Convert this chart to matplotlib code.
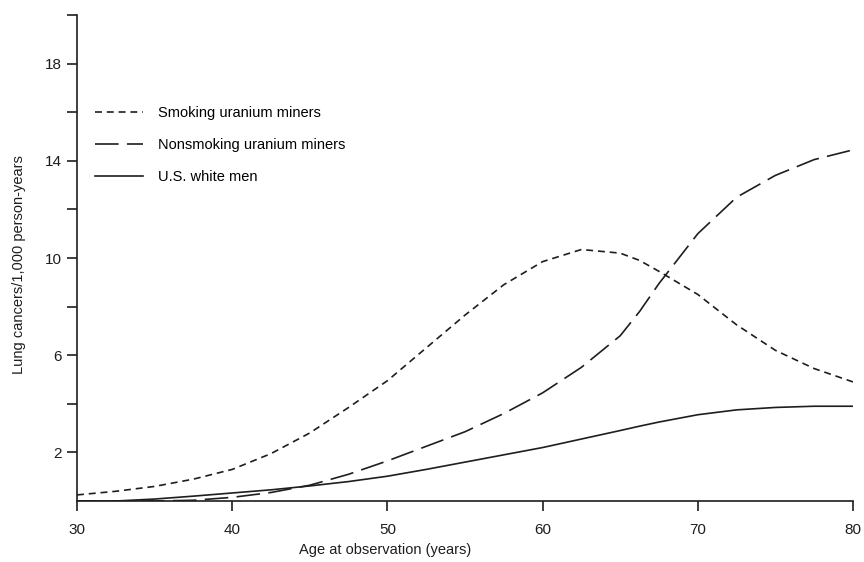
import matplotlib
matplotlib.use("Agg")
import matplotlib.pyplot as plt
from matplotlib.ticker import FixedLocator

plt.rcParams['font.family'] = ['Liberation Sans', 'DejaVu Sans']
plt.rcParams['lines.scale_dashes'] = False

# ── Data ──────────────────────────────────────────────────────────────────────
ages = [30, 32.5, 35, 37.5, 40, 42.5, 45, 47.5, 50, 52.5, 55,
        57.5, 60, 62.5, 65, 66.25, 67.5, 70, 72.5, 75, 77.5, 80]
smoking = [0.25, 0.4, 0.6, 0.9, 1.3, 1.95, 2.8, 3.85, 4.95, 6.3, 7.65,
           8.9, 9.85, 10.35, 10.2, 9.9, 9.45, 8.5, 7.25, 6.2, 5.45, 4.9]
nonsmoking = [0.0, 0.0, 0.0, 0.03, 0.15, 0.35, 0.65, 1.1, 1.65, 2.25, 2.85,
              3.6, 4.45, 5.5, 6.8, 7.8, 8.95, 11.0, 12.5, 13.4, 14.05, 14.45]
us_white = [0.0, 0.0, 0.08, 0.2, 0.33, 0.46, 0.62, 0.8, 1.02, 1.3, 1.6,
            1.9, 2.2, 2.55, 2.9, 3.08, 3.25, 3.55, 3.75, 3.85, 3.9, 3.9]

labels = ['Smoking uranium miners', 'Nonsmoking uranium miners',
          'U.S. white men']
x_ticks = [30, 40, 50, 60, 70, 80]
y_major = [2, 6, 10, 14, 18]
y_minor = [4, 8, 12, 16, 20]

ink = '#1e1e1e'

# ── Figure ────────────────────────────────────────────────────────────────────
fig = plt.figure(figsize=(8.64, 5.62), dpi=100)
ax = fig.add_axes([77/864, 61/562, 776/864, 486/562])

ax.plot(ages, smoking, color=ink, lw=1.2, dashes=(5, 3.5), label=labels[0])
ax.plot(ages, nonsmoking, color=ink, lw=1.2, dashes=(17, 6), label=labels[1])
ax.plot(ages, us_white, color=ink, lw=1.2, label=labels[2])

ax.set_xlim(30, 80)
ax.set_ylim(0, 20)
ax.set_xticks(x_ticks)
ax.yaxis.set_major_locator(FixedLocator(y_major))
ax.yaxis.set_minor_locator(FixedLocator(y_minor))

for side in ['top', 'right']:
    ax.spines[side].set_visible(False)
for side in ['left', 'bottom']:
    ax.spines[side].set_linewidth(1.2)
    ax.spines[side].set_color(ink)

ax.tick_params(axis='x', direction='out', length=7, width=1.2, pad=9,
               labelsize=11, colors=ink)
ax.tick_params(axis='y', which='both', direction='out', length=7, width=1.2,
               pad=4, labelsize=11, colors=ink)

ax.set_xlabel('Age at observation (years)', fontsize=10.5, color=ink)
ax.xaxis.set_label_coords(0.397, -0.086)
ax.set_ylabel('Lung cancers/1,000 person-years', fontsize=10.5, color=ink)
ax.yaxis.set_label_coords(-0.066, 0.486)

ax.legend(loc='upper left', bbox_to_anchor=(95/864, 1 - 106/562),
          bbox_transform=fig.transFigure, frameon=False, fontsize=10.5,
          handlelength=3.3, handletextpad=1.0, labelspacing=1.25,
          borderpad=0, borderaxespad=0)

plt.savefig('out.png', dpi=100, facecolor='white')
plt.close()
